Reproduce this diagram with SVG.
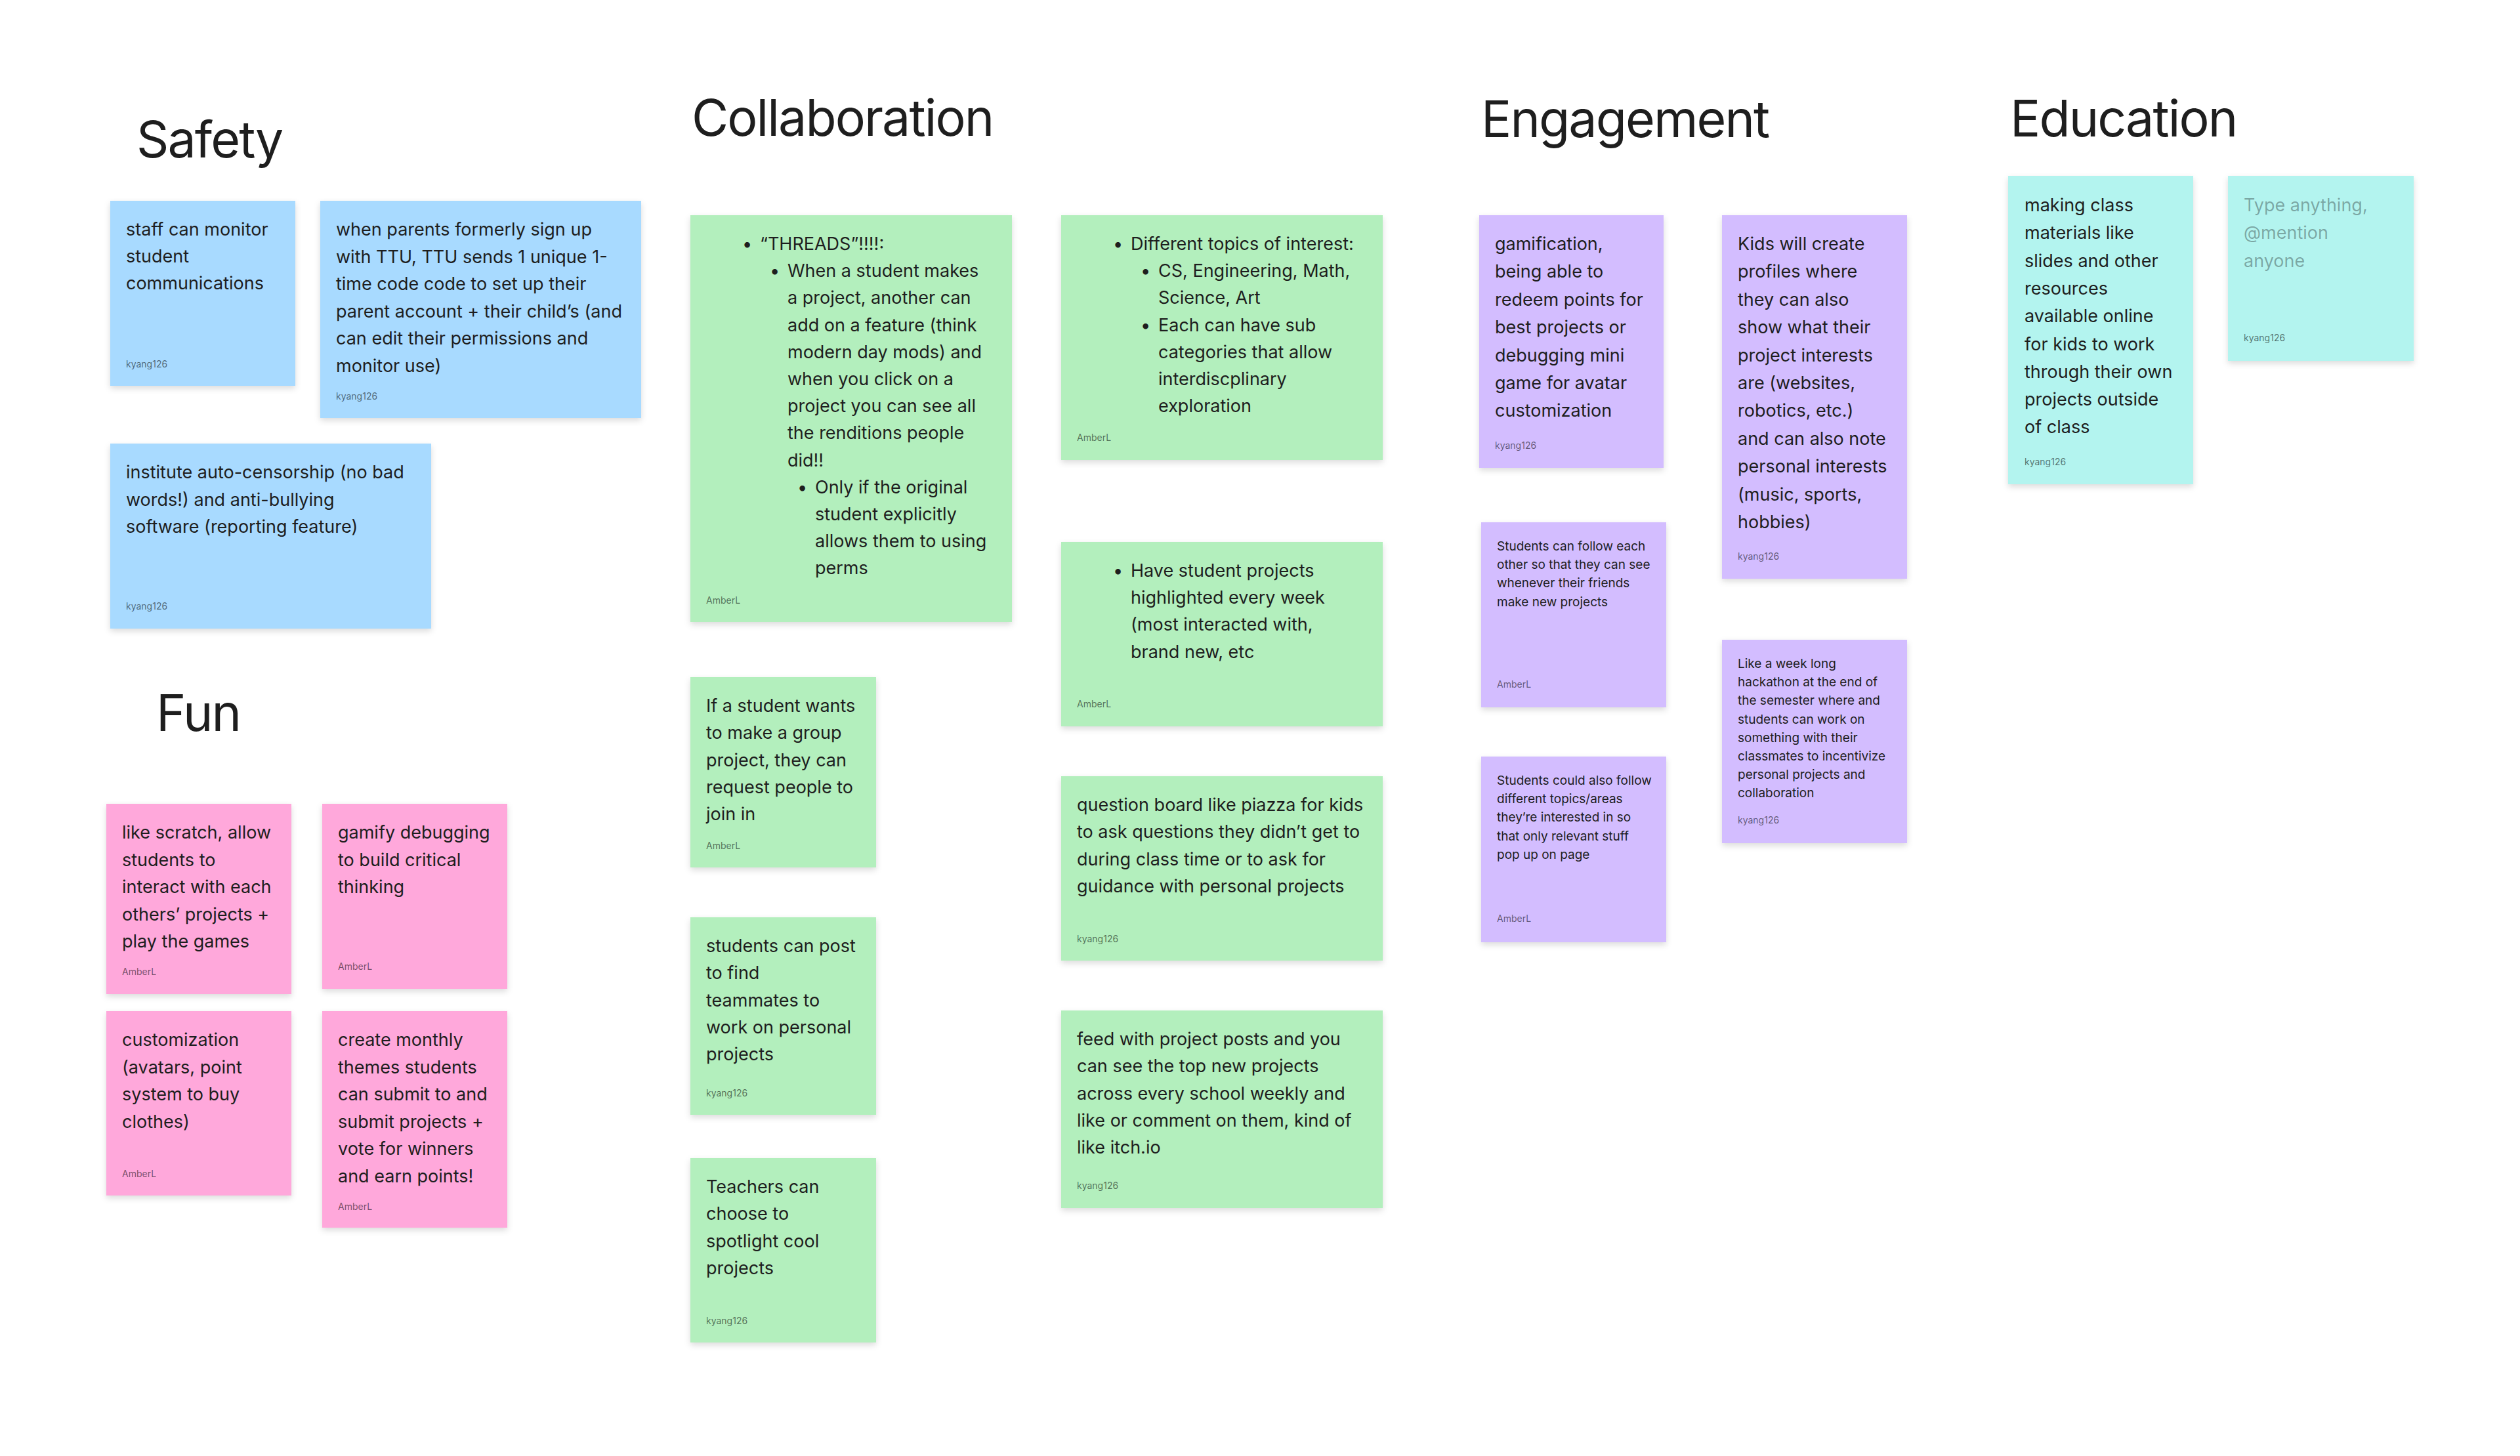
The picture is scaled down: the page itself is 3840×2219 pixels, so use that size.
<svg xmlns="http://www.w3.org/2000/svg" width="3840" height="2219" viewBox="0 0 3840 2219">
<style>
.h{font-family:Inter,"Noto Sans",sans-serif;font-size:77px;letter-spacing:-1.9px;fill:#1e1e1e}
.t{font-family:Inter,"Noto Sans",sans-serif;font-size:27px;fill:#1e1e1e}
.s{font-family:Inter,"Noto Sans",sans-serif;font-size:19px;fill:#1e1e1e}
.l{font-family:Inter,"Noto Sans",sans-serif;font-size:14px;fill:#000;fill-opacity:0.55}
.p{font-family:Inter,"Noto Sans",sans-serif;font-size:27px;fill:#000;fill-opacity:0.33}
.blue{fill:#A8DAFF}
.pink{fill:#FFA8DB}
.green{fill:#B3EFBD}
.violet{fill:#D3BDFF}
.teal{fill:#B3F4EF}
.card{filter:url(#sh)}
</style>
<defs>
<filter id="sh" x="-10%" y="-10%" width="120%" height="125%">
<feDropShadow dx="0" dy="4" stdDeviation="5" flood-color="#000" flood-opacity="0.14"/>
</filter>
</defs>
<rect width="3840" height="2219" fill="#ffffff"/>

<g id="titles">
<text class="h" x="208" y="240">Safety</text>
<text class="h" x="1054" y="207">Collaboration</text>
<text class="h" x="2257" y="209">Engagement</text>
<text class="h" x="3063" y="208">Education</text>
<text class="h" x="238" y="1114">Fun</text>
</g>

<g id="connectors"></g>

<!-- Safety -->
<g id="safety-1">
<rect class="card blue" x="168" y="306" width="282" height="282"/>
<text class="t"><tspan x="192" y="359">staff can monitor</tspan><tspan x="192" y="400">student</tspan><tspan x="192" y="441">communications</tspan></text>
<text class="l" x="192" y="560">kyang126</text>
</g>
<g id="safety-2">
<rect class="card blue" x="488" y="306" width="489" height="331"/>
<text class="t"><tspan x="512" y="359">when parents formerly sign up</tspan><tspan x="512" y="400.5">with TTU, TTU sends 1 unique 1-</tspan><tspan x="512" y="442">time code code to set up their</tspan><tspan x="512" y="483.5">parent account + their child’s (and</tspan><tspan x="512" y="525">can edit their permissions and</tspan><tspan x="512" y="566.5">monitor use)</tspan></text>
<text class="l" x="512" y="609">kyang126</text>
</g>
<g id="safety-3">
<rect class="card blue" x="168" y="676" width="489" height="282"/>
<text class="t"><tspan x="192" y="729">institute auto-censorship (no bad</tspan><tspan x="192" y="770.5">words!) and anti-bullying</tspan><tspan x="192" y="812">software (reporting feature)</tspan></text>
<text class="l" x="192" y="929">kyang126</text>
</g>

<!-- Fun -->
<g id="fun-1">
<rect class="card pink" x="162" y="1225" width="282" height="290"/>
<text class="t"><tspan x="186" y="1278">like scratch, allow</tspan><tspan x="186" y="1319.5">students to</tspan><tspan x="186" y="1361">interact with each</tspan><tspan x="186" y="1402.5">others’ projects +</tspan><tspan x="186" y="1444">play the games</tspan></text>
<text class="l" x="186" y="1486">AmberL</text>
</g>
<g id="fun-2">
<rect class="card pink" x="491" y="1225" width="282" height="282"/>
<text class="t"><tspan x="515" y="1278">gamify debugging</tspan><tspan x="515" y="1319.5">to build critical</tspan><tspan x="515" y="1361">thinking</tspan></text>
<text class="l" x="515" y="1478">AmberL</text>
</g>
<g id="fun-3">
<rect class="card pink" x="162" y="1541" width="282" height="281"/>
<text class="t"><tspan x="186" y="1594">customization</tspan><tspan x="186" y="1635.5">(avatars, point</tspan><tspan x="186" y="1677">system to buy</tspan><tspan x="186" y="1718.5">clothes)</tspan></text>
<text class="l" x="186" y="1794">AmberL</text>
</g>
<g id="fun-4">
<rect class="card pink" x="491" y="1541" width="282" height="330"/>
<text class="t"><tspan x="515" y="1594">create monthly</tspan><tspan x="515" y="1635.5">themes students</tspan><tspan x="515" y="1677">can submit to and</tspan><tspan x="515" y="1718.5">submit projects +</tspan><tspan x="515" y="1760">vote for winners</tspan><tspan x="515" y="1801.5">and earn points!</tspan></text>
<text class="l" x="515" y="1844">AmberL</text>
</g>

<!-- Collaboration -->
<g id="collab-threads">
<rect class="card green" x="1052" y="328" width="490" height="620"/>
<text class="t">
<tspan x="1131" y="381">•</tspan><tspan x="1158" y="381">“THREADS”!!!!:</tspan>
<tspan x="1173" y="422.2">•</tspan><tspan x="1200" y="422.2">When a student makes</tspan>
<tspan x="1200" y="463.4">a project, another can</tspan>
<tspan x="1200" y="504.6">add on a feature (think</tspan>
<tspan x="1200" y="545.8">modern day mods) and</tspan>
<tspan x="1200" y="587">when you click on a</tspan>
<tspan x="1200" y="628.2">project you can see all</tspan>
<tspan x="1200" y="669.4">the renditions people</tspan>
<tspan x="1200" y="710.6">did!!</tspan>
<tspan x="1215" y="751.8">•</tspan><tspan x="1242" y="751.8">Only if the original</tspan>
<tspan x="1242" y="793">student explicitly</tspan>
<tspan x="1242" y="834.2">allows them to using</tspan>
<tspan x="1242" y="875.4">perms</tspan>
</text>
<text class="l" x="1076" y="920">AmberL</text>
</g>
<g id="collab-topics">
<rect class="card green" x="1617" y="328" width="490" height="373"/>
<text class="t">
<tspan x="1696" y="381">•</tspan><tspan x="1723" y="381">Different topics of interest:</tspan>
<tspan x="1738" y="422.2">•</tspan><tspan x="1765" y="422.2">CS, Engineering, Math,</tspan>
<tspan x="1765" y="463.4">Science, Art</tspan>
<tspan x="1738" y="504.6">•</tspan><tspan x="1765" y="504.6">Each can have sub</tspan>
<tspan x="1765" y="545.8">categories that allow</tspan>
<tspan x="1765" y="587">interdiscplinary</tspan>
<tspan x="1765" y="628.2">exploration</tspan>
</text>
<text class="l" x="1641" y="672">AmberL</text>
</g>
<g id="collab-highlight">
<rect class="card green" x="1617" y="826" width="490" height="281"/>
<text class="t">
<tspan x="1696" y="879">•</tspan><tspan x="1723" y="879">Have student projects</tspan>
<tspan x="1723" y="920.2">highlighted every week</tspan>
<tspan x="1723" y="961.4">(most interacted with,</tspan>
<tspan x="1723" y="1002.6">brand new, etc</tspan>
</text>
<text class="l" x="1641" y="1078">AmberL</text>
</g>
<g id="collab-group">
<rect class="card green" x="1052" y="1032" width="283" height="290"/>
<text class="t"><tspan x="1076" y="1085">If a student wants</tspan><tspan x="1076" y="1126.3">to make a group</tspan><tspan x="1076" y="1167.6">project, they can</tspan><tspan x="1076" y="1208.9">request people to</tspan><tspan x="1076" y="1250.2">join in</tspan></text>
<text class="l" x="1076" y="1294">AmberL</text>
</g>
<g id="collab-teammates">
<rect class="card green" x="1052" y="1398" width="283" height="301"/>
<text class="t"><tspan x="1076" y="1451">students can post</tspan><tspan x="1076" y="1492.3">to find</tspan><tspan x="1076" y="1533.6">teammates to</tspan><tspan x="1076" y="1574.9">work on personal</tspan><tspan x="1076" y="1616.2">projects</tspan></text>
<text class="l" x="1076" y="1671">kyang126</text>
</g>
<g id="collab-spotlight">
<rect class="card green" x="1052" y="1765" width="283" height="281"/>
<text class="t"><tspan x="1076" y="1818">Teachers can</tspan><tspan x="1076" y="1859.3">choose to</tspan><tspan x="1076" y="1900.6">spotlight cool</tspan><tspan x="1076" y="1941.9">projects</tspan></text>
<text class="l" x="1076" y="2018">kyang126</text>
</g>
<g id="collab-question">
<rect class="card green" x="1617" y="1183" width="490" height="281"/>
<text class="t"><tspan x="1641" y="1236">question board like piazza for kids</tspan><tspan x="1641" y="1277.3">to ask questions they didn’t get to</tspan><tspan x="1641" y="1318.6">during class time or to ask for</tspan><tspan x="1641" y="1359.9">guidance with personal projects</tspan></text>
<text class="l" x="1641" y="1436">kyang126</text>
</g>
<g id="collab-feed">
<rect class="card green" x="1617" y="1540" width="490" height="301"/>
<text class="t"><tspan x="1641" y="1593">feed with project posts and you</tspan><tspan x="1641" y="1634.3">can see the top new projects</tspan><tspan x="1641" y="1675.6">across every school weekly and</tspan><tspan x="1641" y="1716.9">like or comment on them, kind of</tspan><tspan x="1641" y="1758.2">like itch.io</tspan></text>
<text class="l" x="1641" y="1812">kyang126</text>
</g>

<!-- Engagement -->
<g id="engage-gamification">
<rect class="card violet" x="2254" y="328" width="281" height="385"/>
<text class="t"><tspan x="2278" y="381">gamification,</tspan><tspan x="2278" y="423.4">being able to</tspan><tspan x="2278" y="465.8">redeem points for</tspan><tspan x="2278" y="508.2">best projects or</tspan><tspan x="2278" y="550.6">debugging mini</tspan><tspan x="2278" y="593">game for avatar</tspan><tspan x="2278" y="635.4">customization</tspan></text>
<text class="l" x="2278" y="684">kyang126</text>
</g>
<g id="engage-profiles">
<rect class="card violet" x="2624" y="328" width="282" height="554"/>
<text class="t"><tspan x="2648" y="381">Kids will create</tspan><tspan x="2648" y="423.4">profiles where</tspan><tspan x="2648" y="465.8">they can also</tspan><tspan x="2648" y="508.2">show what their</tspan><tspan x="2648" y="550.6">project interests</tspan><tspan x="2648" y="593">are (websites,</tspan><tspan x="2648" y="635.4">robotics, etc.)</tspan><tspan x="2648" y="677.8">and can also note</tspan><tspan x="2648" y="720.2">personal interests</tspan><tspan x="2648" y="762.6">(music, sports,</tspan><tspan x="2648" y="805">hobbies)</tspan></text>
<text class="l" x="2648" y="853">kyang126</text>
</g>
<g id="engage-follow">
<rect class="card violet" x="2257" y="796" width="282" height="282"/>
<text class="s"><tspan x="2281" y="839">Students can follow each</tspan><tspan x="2281" y="867.2">other so that they can see</tspan><tspan x="2281" y="895.4">whenever their friends</tspan><tspan x="2281" y="923.6">make new projects</tspan></text>
<text class="l" x="2281" y="1048">AmberL</text>
</g>
<g id="engage-hackathon">
<rect class="card violet" x="2624" y="975" width="282" height="310"/>
<text class="s"><tspan x="2648" y="1018">Like a week long</tspan><tspan x="2648" y="1046.2">hackathon at the end of</tspan><tspan x="2648" y="1074.4">the semester where and</tspan><tspan x="2648" y="1102.6">students can work on</tspan><tspan x="2648" y="1130.8">something with their</tspan><tspan x="2648" y="1159">classmates to incentivize</tspan><tspan x="2648" y="1187.2">personal projects and</tspan><tspan x="2648" y="1215.4">collaboration</tspan></text>
<text class="l" x="2648" y="1255">kyang126</text>
</g>
<g id="engage-topics">
<rect class="card violet" x="2257" y="1153" width="282" height="283"/>
<text class="s"><tspan x="2281" y="1196">Students could also follow</tspan><tspan x="2281" y="1224.2">different topics/areas</tspan><tspan x="2281" y="1252.4">they’re interested in so</tspan><tspan x="2281" y="1280.6">that only relevant stuff</tspan><tspan x="2281" y="1308.8">pop up on page</tspan></text>
<text class="l" x="2281" y="1405">AmberL</text>
</g>

<!-- Education -->
<g id="edu-materials">
<rect class="card teal" x="3060" y="268" width="282" height="470"/>
<text class="t"><tspan x="3085" y="322">making class</tspan><tspan x="3085" y="364.3">materials like</tspan><tspan x="3085" y="406.6">slides and other</tspan><tspan x="3085" y="448.9">resources</tspan><tspan x="3085" y="491.2">available online</tspan><tspan x="3085" y="533.5">for kids to work</tspan><tspan x="3085" y="575.8">through their own</tspan><tspan x="3085" y="618.1">projects outside</tspan><tspan x="3085" y="660.4">of class</tspan></text>
<text class="l" x="3085" y="709">kyang126</text>
</g>
<g id="edu-placeholder">
<rect class="card teal" x="3395" y="268" width="283" height="282"/>
<text class="p"><tspan x="3419" y="322">Type anything,</tspan><tspan x="3419" y="364.3">@mention</tspan><tspan x="3419" y="406.6">anyone</tspan></text>
<text class="l" x="3419" y="520">kyang126</text>
</g>
</svg>
